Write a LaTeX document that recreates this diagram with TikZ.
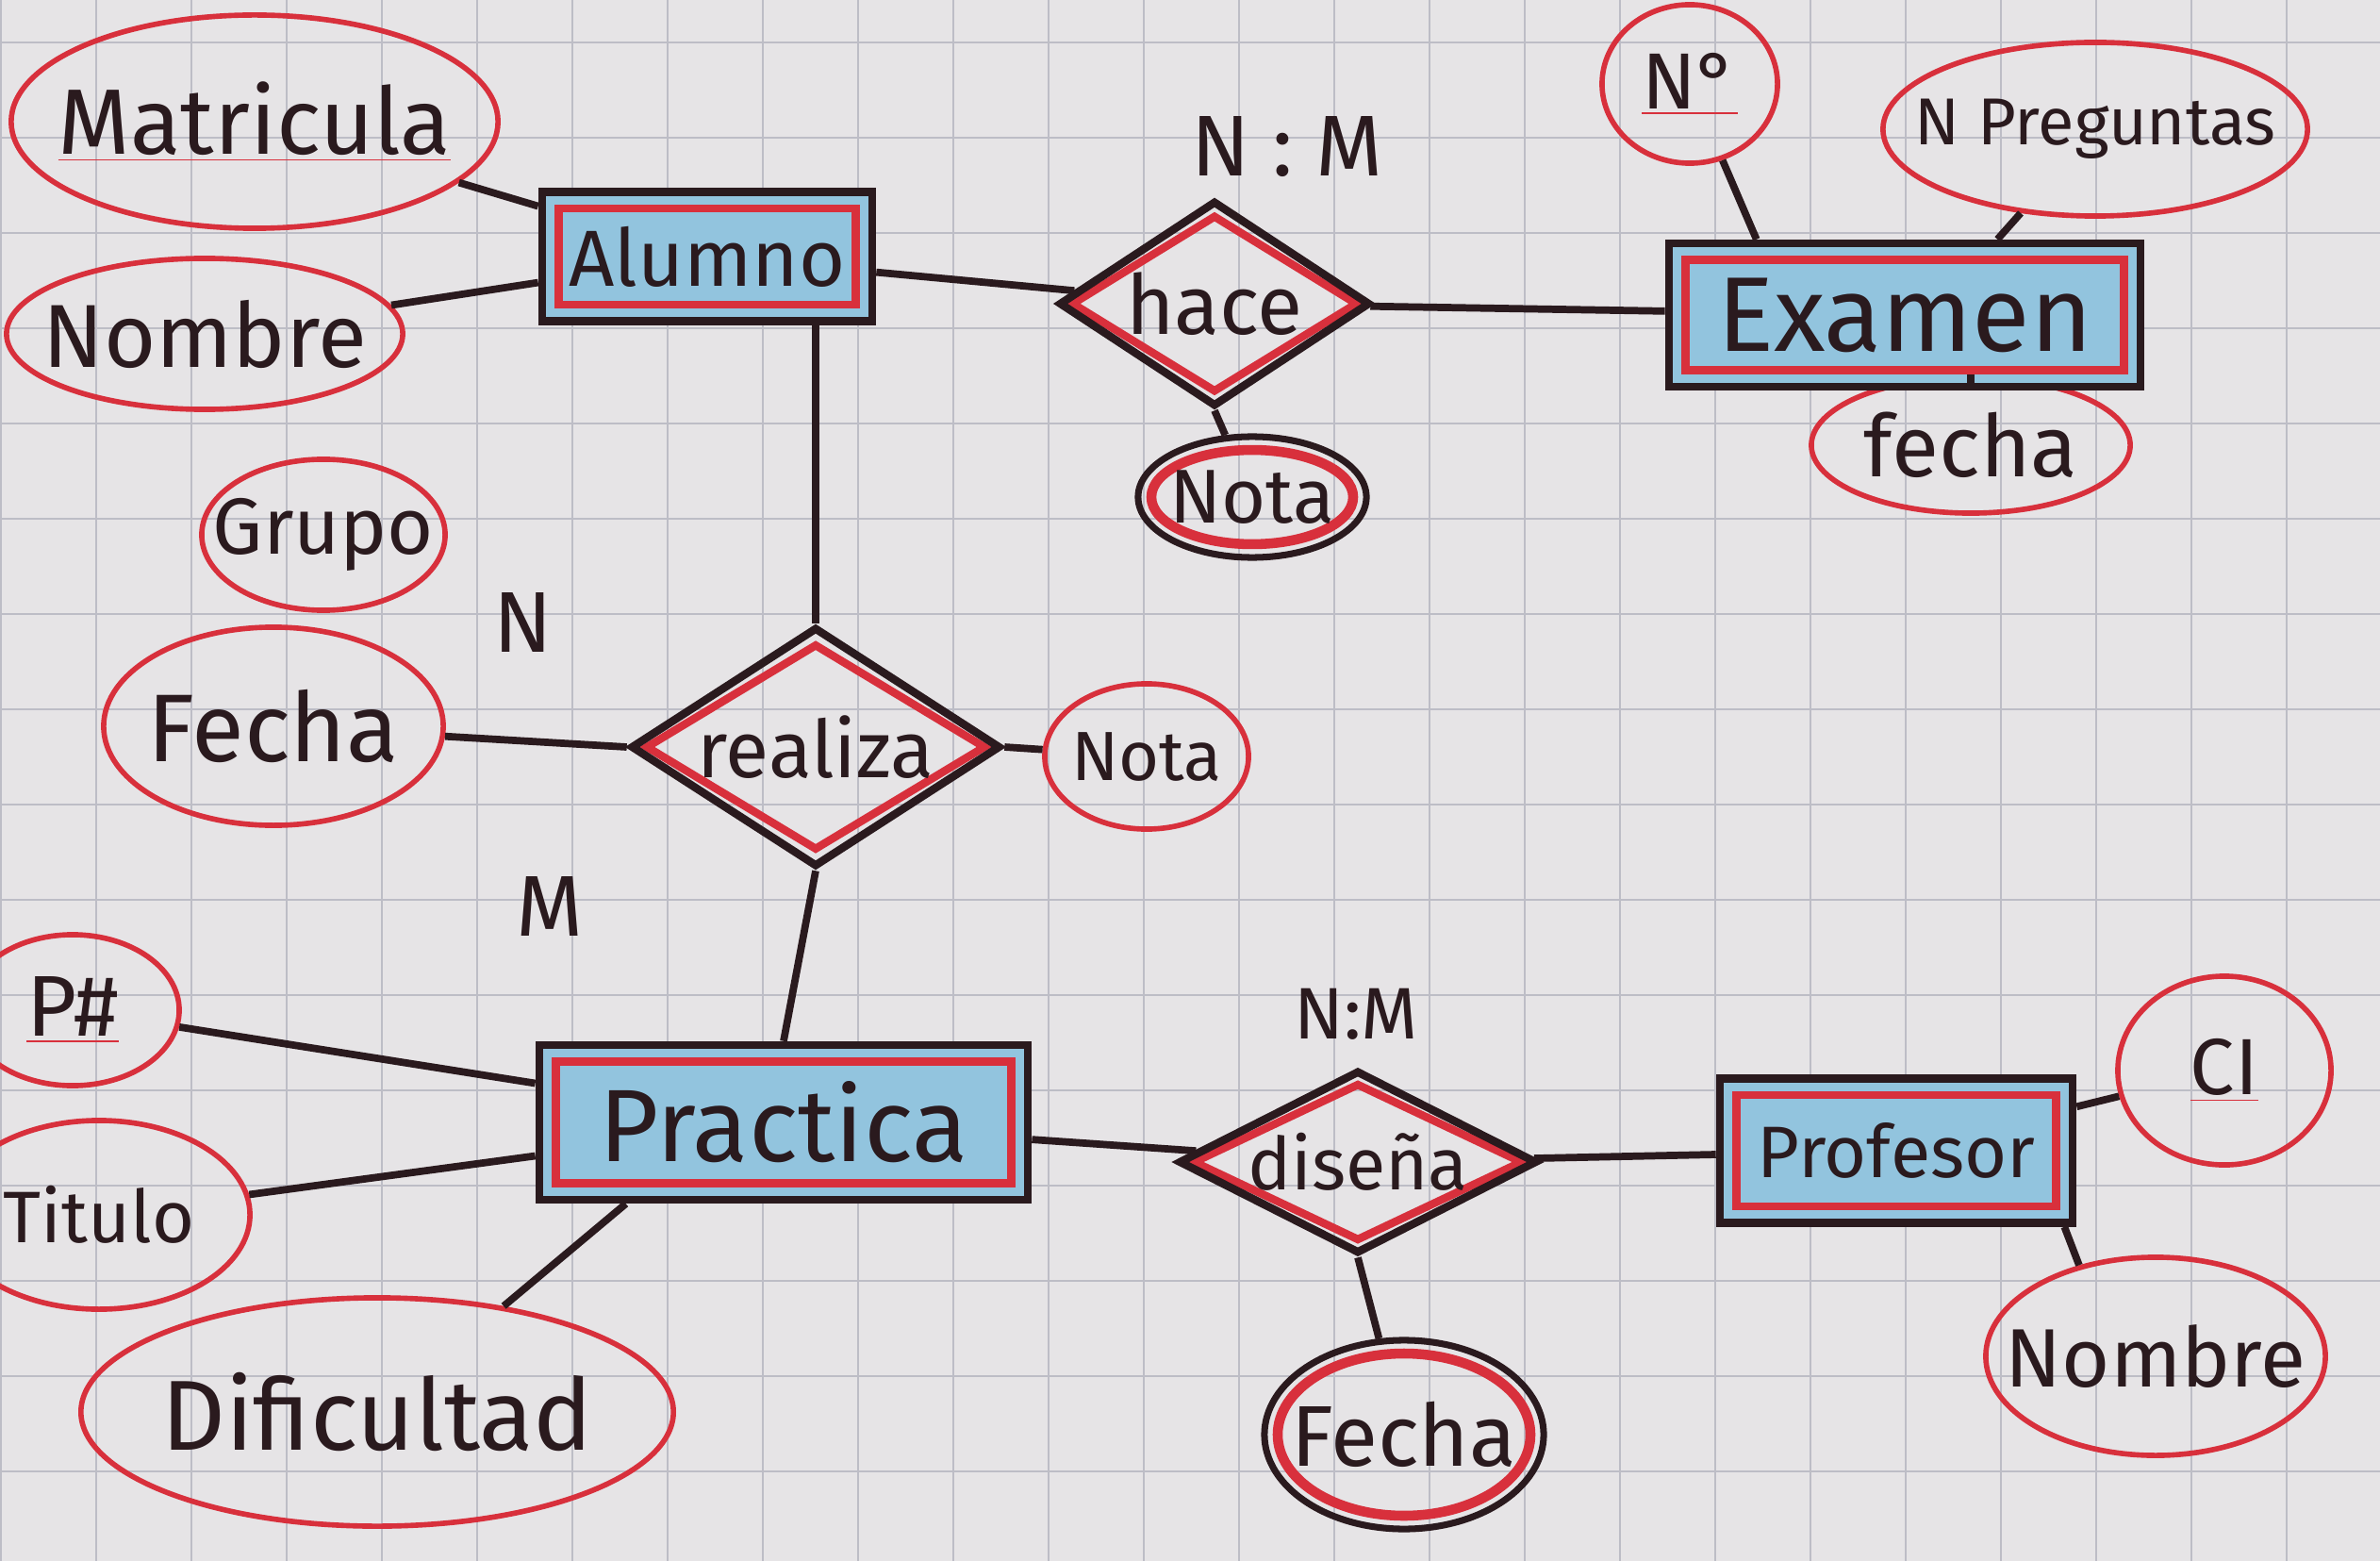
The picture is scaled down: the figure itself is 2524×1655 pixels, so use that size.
\documentclass[tikz,border=0pt]{standalone}
\usepackage{fontspec}
\setmainfont{Fira Sans}
\usetikzlibrary{shapes.geometric,calc}
\definecolor{paper}{HTML}{E6E4E6}
\definecolor{gridc}{HTML}{BDBDC6}
\definecolor{ink}{HTML}{2A1A1E}
\definecolor{redpen}{HTML}{D8303C}
\definecolor{bluefill}{HTML}{92C4DE}
\newcommand{\fsz}[1]{\fontsize{#1}{#1}\selectfont}
\newcommand{\rul}[1]{{\color{redpen}\underline{\color{ink}#1}}}
\newcommand{\tx}[1]{\makebox[0pt]{#1}}
\tikzset{
  conn/.style={draw=ink, line width=2.2pt},
  attr/.style={ellipse, draw=redpen, line width=1.6pt, inner sep=0pt, text=ink},
  attrk/.style={attr, draw=ink, line width=2pt,
    path picture={\draw[redpen,line width=3pt] let \p1=(path picture bounding box.north east), \p2=(path picture bounding box.center) in (\p2) ellipse ({\x1-\x2-4pt} and {\y1-\y2-4pt});}},
  entity/.style={rectangle, draw=ink, line width=2.4pt, fill=bluefill, inner sep=0pt, text=ink,
    path picture={\draw[redpen, line width=2.4pt] ([shift={(5pt,-5pt)}]path picture bounding box.north west) rectangle ([shift={(-5pt,5pt)}]path picture bounding box.south east);}},
  rel/.style={diamond, draw=ink, line width=2.4pt, inner sep=0pt, text=ink,
    path picture={\draw[redpen,line width=2.4pt]
      ($(path picture bounding box.center)!0.86!(path picture bounding box.north)$) --
      ($(path picture bounding box.center)!0.92!(path picture bounding box.east)$) --
      ($(path picture bounding box.center)!0.86!(path picture bounding box.south)$) --
      ($(path picture bounding box.center)!0.92!(path picture bounding box.west)$) -- cycle;}},
  lbl/.style={text=ink, inner sep=0pt},
}
\begin{document}
\begin{tikzpicture}[x=0.01cm, y=-0.01cm]
\useasboundingbox (0,0) rectangle (2524,1655);
\fill[paper] (0,0) rectangle (2524,1655);
\foreach \gx in {1,102,...,2524} \draw[gridc, line width=0.8pt] (\gx,0) -- (\gx,1655);
\foreach \gy in {45,146,...,1655} \draw[gridc, line width=0.8pt] (0,\gy) -- (2524,\gy);

% attributes
\node[attr, minimum width=5.16cm, minimum height=2.26cm] (matr) at (270,129) {\fsz{28}\tx{\rul{Matricula}}};
\node[attr, minimum width=4.2cm, minimum height=1.6cm] (nomA) at (217,354) {\fsz{27}\tx{Nombre}};
\node[attr, minimum width=2.58cm, minimum height=1.6cm] (grupo) at (343,567) {\fsz{24}\tx{Grupo}};
\node[attr, minimum width=3.6cm, minimum height=2.1cm] (fechaL) at (290,770) {\fsz{29}\tx{Fecha}};
\node[attr, minimum width=2.16cm, minimum height=1.54cm] (notaR) at (1216,802) {\fsz{21}\tx{Nota}};
\node[attr, minimum width=2.26cm, minimum height=1.6cm] (pnum) at (77,1071) {\fsz{26}\tx{\rul{P\#}}};
\node[attr, minimum width=3.2cm, minimum height=2.0cm] (titulo) at (105,1288) {\fsz{22}\tx{Titulo}};
\node[attr, minimum width=6.28cm, minimum height=2.42cm] (dific) at (400,1497) {\fsz{30}\tx{Dificultad}};
\node[attrk, minimum width=2.42cm, minimum height=1.28cm] (notaH) at (1328,527) {\fsz{23}\tx{Nota}};
\node[attr, minimum width=1.86cm, minimum height=1.68cm] (nnum) at (1792,89) {\fsz{24}\tx{\rul{N°}}};
\node[attr, minimum width=4.5cm, minimum height=1.84cm] (npreg) at (2222,137) {\fsz{20}\tx{N Preguntas}};
\node[attr, minimum width=3.38cm, minimum height=1.44cm] (fechaE) at (2090,472) {\fsz{26}\tx{fecha}};
\node[attrk, minimum width=2.96cm, minimum height=2.0cm] (fechaB) at (1489,1521) {\fsz{26}\tx{Fecha}};
\node[attr, minimum width=2.26cm, minimum height=2.0cm] (ci) at (2359,1135) {\fsz{24}\tx{\rul{CI}}};
\node[attr, minimum width=3.6cm, minimum height=2.1cm] (nomP) at (2286,1438) {\fsz{25}\tx{Nombre}};

% entities
\node[entity, minimum width=3.5cm, minimum height=1.37cm] (alumno) at (750,272) {\fsz{24}\tx{Alumno}};
\node[entity, minimum width=5.18cm, minimum height=1.64cm] (practica) at (831,1190) {\fsz{31}\tx{Practica}};
\node[entity, minimum width=5.0cm, minimum height=1.52cm] (examen) at (2020,334) {\fsz{32}\tx{Examen}};
\node[entity, minimum width=3.74cm, minimum height=1.53cm] (profesor) at (2011,1220) {\fsz{22}\tx{Profesor}};

% relationships
\node[rel, minimum width=3.3cm, minimum height=2.18cm] (hace) at (1288,322) {\fsz{25}\tx{hace}};
\node[rel, minimum width=3.92cm, minimum height=2.54cm] (realiza) at (865,792) {\fsz{24}\tx{realiza}};
\node[rel, minimum width=3.8cm, minimum height=1.94cm] (disena) at (1440,1232) {\fsz{22}\tx{diseña}};

% cardinality labels
\node[lbl] (cardN) at (555,660) {\fsz{26}N};
\node[lbl] (cardM) at (583,961) {\fsz{26}M};
\node[lbl] (cardH) at (1365,156) {\fsz{26}N : M};
\node[lbl] (cardD) at (1438,1075) {\fsz{22}N:M};

% connectors
\draw[conn] (matr) -- (alumno);
\draw[conn] (nomA) -- (alumno);
\draw[conn] (alumno) -- (hace);
\draw[conn] (hace) -- (examen);
\draw[conn] (hace.south) -- (notaH);
\draw[conn] (nnum) -- ([xshift=0.97cm]examen.north west);
\draw[conn] (npreg) -- ([xshift=-1.56cm]examen.north east);
\draw[conn] (fechaE.north) -- (fechaE.north |- examen.south);
\draw[conn] (realiza.north) -- (realiza.north |- alumno.south);
\draw[conn] (fechaL) -- (realiza.west);
\draw[conn] (realiza.east) -- (notaR);
\draw[conn] (realiza.south) -- (practica.north);
\draw[conn] (pnum) -- (practica);
\draw[conn] (titulo) -- (practica);
\draw[conn] (dific) -- ([xshift=0.96cm]practica.south west);
\draw[conn] (practica) -- (disena);
\draw[conn] (disena) -- (profesor);
\draw[conn] (disena.south) -- (fechaB);
\draw[conn] (profesor) -- (ci);
\draw[conn] ([xshift=-0.13cm]profesor.south east) -- (nomP.130);
\end{tikzpicture}
\end{document}
